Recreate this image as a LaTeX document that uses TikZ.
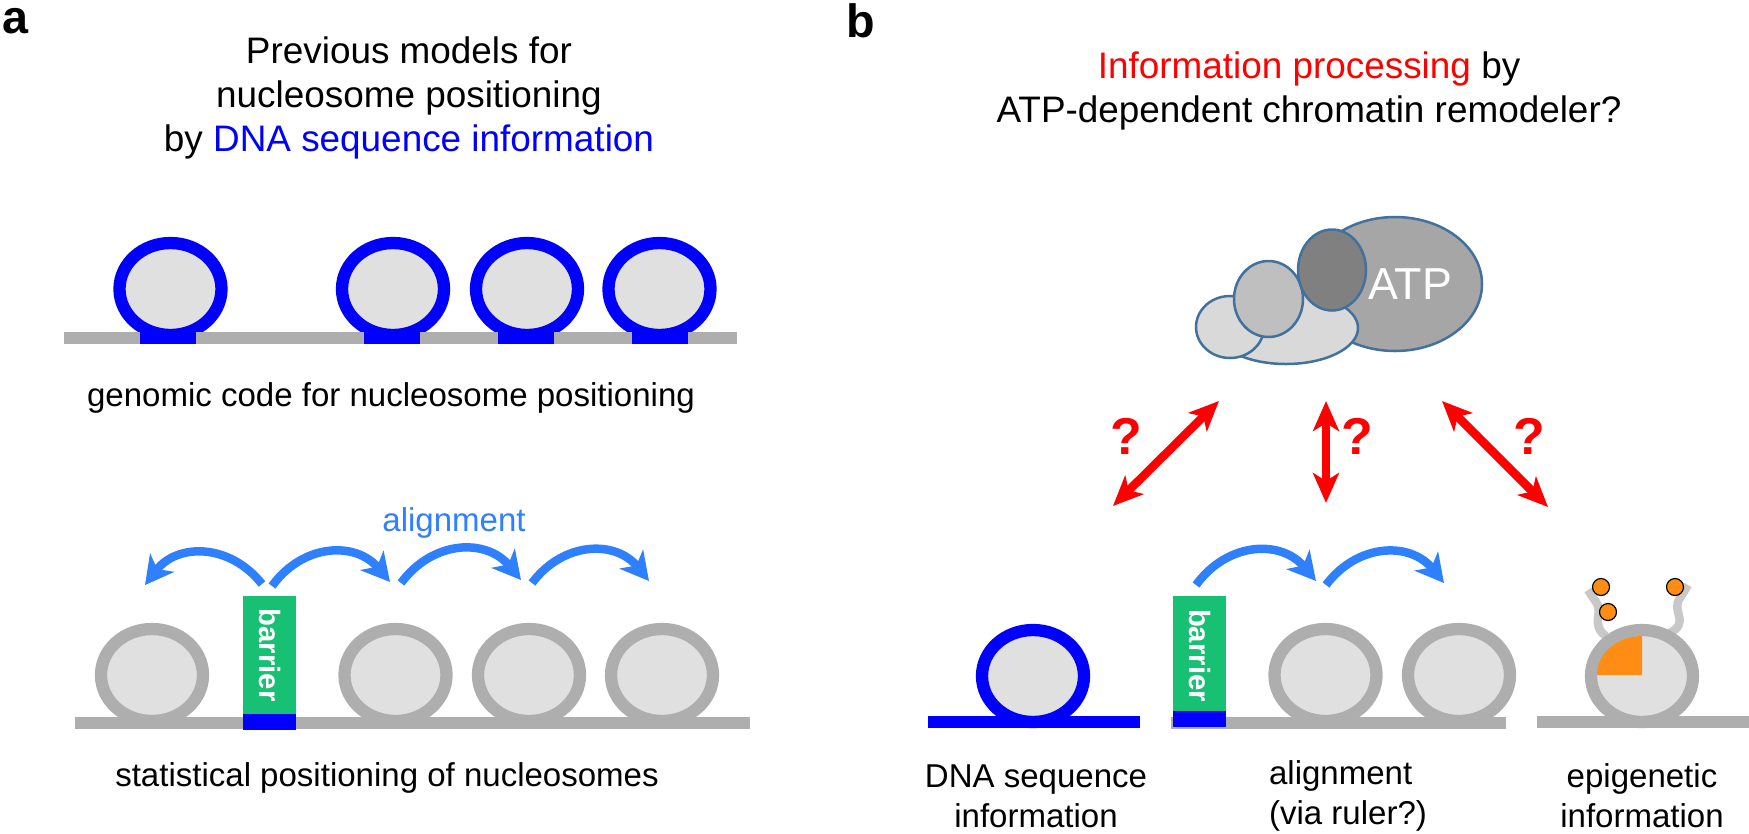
\documentclass[tikz,border=0pt]{standalone}
\usepackage{fontspec}
\setmainfont{Liberation Sans}
\usetikzlibrary{arrows.meta, shapes.geometric}

\definecolor{dnablue}{RGB}{0,0,255}
\definecolor{alignblue}{RGB}{47,128,255}
\definecolor{barriergreen}{RGB}{23,192,115}
\definecolor{dnagray}{RGB}{174,174,174}
\definecolor{corefill}{RGB}{224,224,224}
\definecolor{tailgray}{RGB}{200,200,200}
\definecolor{markorange}{RGB}{255,140,20}
\definecolor{protline}{RGB}{65,113,156}

\def\px{0.02cm}

\tikzset{
  nucgray/.style={ellipse, draw=dnagray, fill=corefill, line width=12.3*\px, minimum width=102*\px, minimum height=92*\px, inner sep=0},
  nucblue/.style={nucgray, draw=dnablue},
  dnaline/.style={draw=dnagray, line width=12.3*\px},
  bluefoot/.style={fill=dnablue, inner sep=0, minimum width=53*\px, minimum height=16*\px},
  barrierbox/.style={fill=barriergreen, inner sep=0, minimum width=53*\px, minimum height=118*\px, anchor=north},
  barriertext/.style={rotate=-90, text=white, font=\fontsize{16.7}{20}\bfseries\selectfont, inner sep=0},
  hopping/.style={draw=alignblue, line width=8.5*\px, -{Stealth[length=28*\px, width=30*\px, inset=8*\px]}, bend left=52, looseness=1.15},
  query/.style={draw=red, line width=8.5*\px, {Stealth[length=30*\px, width=26*\px, inset=8*\px]}-{Stealth[length=30*\px, width=26*\px, inset=8*\px]}},
  qmark/.style={text=red, font=\fontsize{29.5}{32}\bfseries\selectfont, inner sep=0},
  panel/.style={font=\fontsize{26.6}{30}\bfseries\selectfont, inner sep=0},
  caption/.style={align=center, font=\fontsize{18.8}{22.8}\selectfont, inner sep=0},
  heading/.style={align=center, font=\fontsize{21}{25}\selectfont, inner sep=0},
  prot/.style={ellipse, draw=protline, line width=2.5*\px, inner sep=0},
  phospho/.style={circle, draw=black, fill=markorange, line width=1.2*\px, minimum size=17*\px, inner sep=0},
  tail/.style={draw=tailgray, line width=8.5*\px}
}

\begin{document}
\begin{tikzpicture}[x=0.02cm, y=-0.02cm]
\useasboundingbox (0,0) rectangle (1749,833);

% panel a
\node[panel] (labela) at (15,21) {a};
\node[heading] (titlea) at (409,98) {Previous models for\\nucleosome positioning\\by \textcolor{dnablue}{DNA sequence information}};

% genomic code
\coordinate (codeL) at (64,338);
\coordinate (codeR) at (737,338);
\foreach \name/\x in {codeA/170.5, codeB/393, codeC/527, codeD/659.5} {
  \node[nucblue] (\name) at (\x,289) {};
}
\draw[dnaline] (codeL) -- (codeR);
\foreach \name/\x in {footA/168.3, footB/391.5, footC/526, footD/659.5} {
  \node[bluefoot, minimum width=56*\px, minimum height=14*\px] (\name) at (\x,337) {};
}
\node[caption] (codetext) at (391,398) {genomic code for nucleosome positioning};

% statistical positioning
\coordinate (statL) at (75,723);
\coordinate (statR) at (750,723);
\foreach \name/\x in {statA/152, statB/395.5, statC/529, statD/662} {
  \node[nucgray] (\name) at (\x,675) {};
}
\draw[dnaline] (statL) -- (statR);
\node[barrierbox] (barrierA) at (269.5,596) {};
\node[barriertext] (barrierAtext) at (270,655) {barrier};
\node[bluefoot] (barrierAfoot) at (269.5,722) {};

\coordinate (hopA1) at (262,584);
\coordinate (hopA2) at (145,585);
\coordinate (hopB1) at (272,586);
\coordinate (hopB2) at (390,582);
\coordinate (hopC1) at (401,583);
\coordinate (hopC2) at (521,580);
\coordinate (hopD1) at (532,583);
\coordinate (hopD2) at (649,581);
\draw[hopping, bend left=-52] (hopA1) to (hopA2);
\draw[hopping] (hopB1) to (hopB2);
\draw[hopping] (hopC1) to (hopC2);
\draw[hopping] (hopD1) to (hopD2);
\node[caption, text=alignblue] (aligntext) at (454,523) {alignment};
\node[caption] (stattext) at (387,778) {statistical positioning of nucleosomes};

% panel b
\node[panel] (labelb) at (861,21) {b};
\node[heading] (titleb) at (1309,91) {\textcolor{red}{Information processing} by\\ATP-dependent chromatin remodeler?};

% remodeler
\node[prot, fill=black!35, minimum width=174*\px, minimum height=134*\px] (protbig) at (1395,284) {};
\node[prot, fill=black!15, minimum width=144*\px, minimum height=72*\px] (protlow) at (1286,328) {};
\node[prot, fill=black!15, minimum width=68*\px, minimum height=62*\px] (protleft) at (1230,327) {};
\node[prot, fill=black!25, minimum width=69*\px, minimum height=76*\px] (protmid) at (1268.5,299) {};
\node[prot, fill=black!50, minimum width=68*\px, minimum height=81*\px] (protdark) at (1332,270) {};
\node[text=white, font=\fontsize{25.5}{30}\selectfont, inner sep=0] (atptext) at (1410,284) {ATP};

% question arrows
\coordinate (askA1) at (1113,506);
\coordinate (askA2) at (1219,401);
\coordinate (askB1) at (1326,503);
\coordinate (askB2) at (1326,401);
\coordinate (askC1) at (1442,401);
\coordinate (askC2) at (1548,507);
\draw[query] (askA1) -- (askA2);
\draw[query] (askB1) -- (askB2);
\draw[query] (askC1) -- (askC2);
\node[qmark] (qA) at (1126,436) {?};
\node[qmark] (qB) at (1357,436) {?};
\node[qmark] (qC) at (1529,436) {?};

% sequence
\coordinate (seqL) at (928,722);
\coordinate (seqR) at (1140,722);
\node[nucblue] (seqnuc) at (1033,676) {};
\draw[dnaline, draw=dnablue] (seqL) -- (seqR);
\node[caption] (seqtext) at (1036,796) {DNA sequence\\information};

% alignment
\coordinate (ruleL) at (1171,723);
\coordinate (ruleR) at (1506,723);
\foreach \name/\x in {ruleA/1325.5, ruleB/1459} {
  \node[nucgray] (\name) at (\x,675) {};
}
\draw[dnaline] (ruleL) -- (ruleR);
\node[barrierbox, minimum height=115*\px] (barrierB) at (1199.5,596) {};
\node[barriertext] (barrierBtext) at (1200,655.5) {barrier};
\node[bluefoot] (barrierBfoot) at (1199.5,719) {};
\coordinate (hopE1) at (1196,585);
\coordinate (hopE2) at (1316,581);
\coordinate (hopF1) at (1326,585);
\coordinate (hopF2) at (1444,583);
\draw[hopping] (hopE1) to (hopE2);
\draw[hopping] (hopF1) to (hopF2);
\node[caption, align=left] (ruletext) at (1348,796) {alignment\\(via ruler?)};

% epigenetic
\coordinate (epiL) at (1537,722);
\coordinate (epiR) at (1749,722);
\coordinate (tailL0) at (1606,636);
\coordinate (tailL1) at (1588,590);
\coordinate (tailR0) at (1668,634);
\coordinate (tailR1) at (1688,585);
\draw[tail] (tailL0) .. controls (1590,625) and (1604,612) .. (1596,602) -- (tailL1);
\draw[tail] (tailR0) .. controls (1692,622) and (1670,612) .. (1680,598) -- (tailR1);
\node[nucgray] (epinuc) at (1642,676) {};
\fill[markorange] (1642,675) -- (1597,675) arc[start angle=180, end angle=90, x radius=45, y radius=-39] -- cycle;
\draw[dnaline] (epiL) -- (epiR);
\node[phospho] (markA) at (1601,587) {};
\node[phospho] (markB) at (1608,612) {};
\node[phospho] (markC) at (1675,587) {};
\node[caption] (epitext) at (1642,796) {epigenetic\\information};

\end{tikzpicture}
\end{document}
